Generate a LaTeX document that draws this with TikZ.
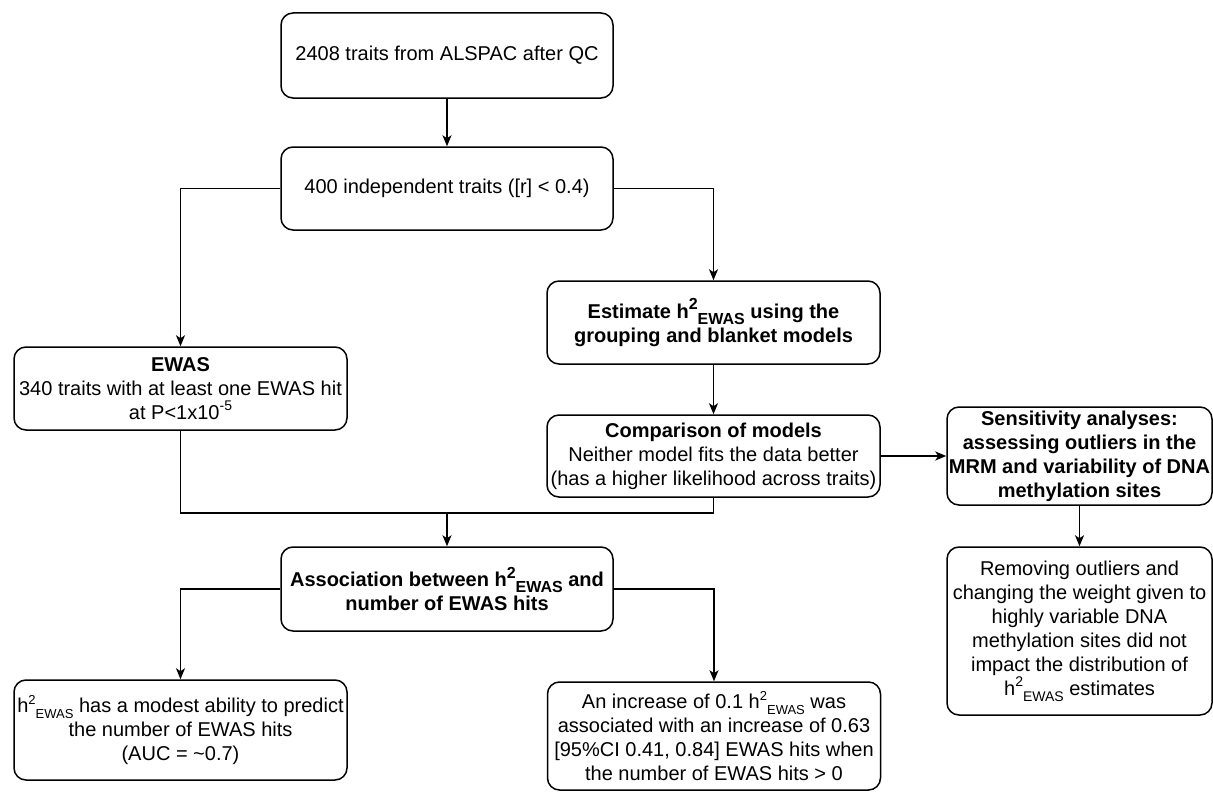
\documentclass[tikz,border=0pt]{standalone}
\usepackage{fontspec}
\setmainfont{Liberation Sans}
\usetikzlibrary{arrows.meta}
\newcommand\hsb[1]{h\raisebox{0.42em}{\fontsize{#1}{#1}\selectfont 2}\raisebox{-0.3em}{\fontsize{#1}{#1}\selectfont EWAS}}
\newcommand\supx[2]{\raisebox{0.42em}{\fontsize{#1}{#1}\selectfont #2}}
\begin{document}
\begin{tikzpicture}[x=1pt,y=-1pt,
  box/.style={draw, rounded corners=12pt, line width=1.5pt, align=center, inner sep=0pt,
    font=\fontsize{20}{24}\selectfont},
  arr/.style={-{Stealth[length=11pt,width=9pt,inset=3pt]}, line width=1.5pt},
  lin/.style={line width=1.5pt}]
\useasboundingbox (0,0) rectangle (1213,792);
\node[box, minimum width=332pt, minimum height=85pt] (b1) at (447,55.5) {2408 traits from ALSPAC after QC};
\node[box, minimum width=332pt, minimum height=83pt] (b2) at (447,188.5) {400 independent traits ([r] < 0.4)};
\node[box, minimum width=333pt, minimum height=83pt] (ewas) at (180.5,388.5) {\textbf{EWAS}\\340 traits with at least one EWAS hit\\at P<1x10\supx{14}{-5}};
\node[box, minimum width=333pt, minimum height=83pt] (est) at (713.5,322.5) {\textbf{Estimate \hsb{16} using the}\\\textbf{grouping and blanket models}};
\node[box, minimum width=333pt, minimum height=82pt] (comp) at (713.5,456) {\textbf{Comparison of models}\\Neither model fits the data better\\(has a higher likelihood across traits)};
\node[box, minimum width=265pt, minimum height=98pt] (sens) at (1079.5,456) {\textbf{Sensitivity analyses:}\\\textbf{assessing outliers in the}\\\textbf{MRM and variability of DNA}\\\textbf{methylation sites}};
\node[box, minimum width=265pt, minimum height=168pt] (rem) at (1079.5,631) {Removing outliers and\\changing the weight given to\\highly variable DNA\\methylation sites did not\\impact the distribution of\\\hsb{14} estimates};
\node[box, minimum width=332pt, minimum height=84pt] (assoc) at (447,589) {\textbf{Association between \hsb{16} and}\\\textbf{number of EWAS hits}};
\node[box, minimum width=333pt, minimum height=100pt] (bl) at (180.5,730) {\hsb{13} has a modest ability to predict\\the number of EWAS hits\\(AUC = \textasciitilde0.7)};
\node[box, minimum width=333pt, minimum height=108pt] (br) at (714,736) {An increase of 0.1 \hsb{13} was\\associated with an increase of 0.63\\{}[95\%CI 0.41, 0.84] EWAS hits when\\the number of EWAS hits > 0};
\coordinate (m) at (447,513);
\draw[arr] (b1.south) -- (b2.north);
\draw[arr] (b2.west) -| (ewas.north);
\draw[arr] (b2.east) -| (est.north);
\draw[arr] (est.south) -- (comp.north);
\draw[arr] (comp.east) -- (sens.west);
\draw[arr] (sens.south) -- (rem.north);
\draw[lin] (ewas.south) |- (m);
\draw[lin] (comp.south) |- (m);
\draw[arr] (m) -- (assoc.north);
\draw[arr] (assoc.west) -| (bl.north);
\draw[arr] (assoc.east) -| (br.north);
\end{tikzpicture}
\end{document}
